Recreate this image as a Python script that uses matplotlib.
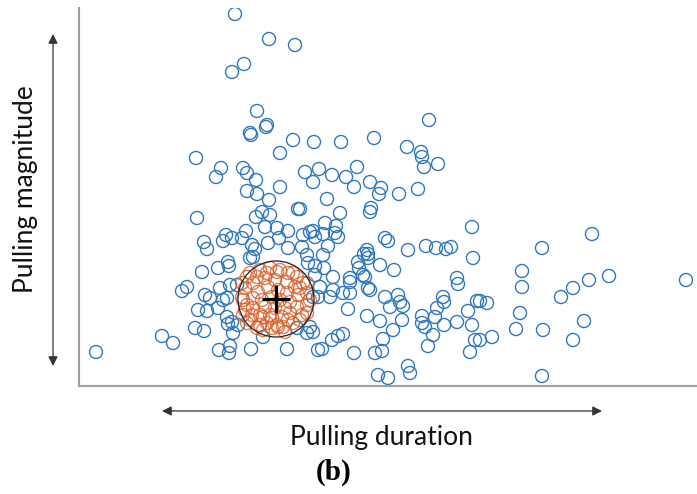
import matplotlib
matplotlib.use("Agg")
import matplotlib.pyplot as plt
from matplotlib.patches import Circle, FancyArrowPatch

# ---- data (arbitrary units) ----
dur_other = [156, 190, 216, 165, 153, 178, 187, 188, 172, 171, 214, 235, 201, 117, 142, 137,
             164, 168, 177, 201, 226, 234, 240, 168, 178, 190, 350, 262, 295, 328, 342, 343,
             345, 359, 253, 267, 278, 275, 291, 302, 300, 320, 339, 248, 221, 261, 292, 291,
             246, 257, 234, 224, 236, 244, 256, 259, 249, 223, 393, 306, 309, 329, 347, 357,
             367, 372, 394, 288, 289, 285, 228, 244, 279, 289, 301, 315, 229, 236, 245, 280,
             284, 271, 254, 236, 378, 513, 463, 443, 443, 510, 530, 607, 494, 482, 408, 401,
             441, 505, 437, 464, 413, 401, 494, 463, 219, 183, 191, 177, 118, 186, 198, 209,
             200, 189, 167, 147, 153, 144, 125, 128, 163, 173, 176, 171, 174, 231, 209, 149,
             150, 139, 123, 108, 103, 126, 131, 141, 151, 158, 144, 148, 119, 128, 139, 148,
             153, 149, 159, 116, 125, 154, 83, 94, 17, 140, 151, 150, 172, 208, 184, 218,
             231, 228, 234, 239, 286, 289, 291, 379, 241, 254, 264, 271, 251, 239, 306, 319,
             311, 321, 324, 269, 364, 365, 358, 398, 389, 288, 301, 323, 343, 356, 343, 346,
             378, 365, 393, 314, 354, 396, 264, 259, 253, 234, 304, 349, 391, 243, 275, 296,
             303, 329, 331, 299, 309, 271]
mag_other = [372, 347, 341, 322, 314, 275, 259, 261, 251, 253, 246, 244, 233, 228, 218, 209,
             218, 213, 206, 199, 214, 204, 217, 195, 192, 186, 266, 244, 248, 239, 234, 229,
             219, 222, 211, 209, 219, 199, 204, 198, 192, 192, 197, 187, 177, 173, 178, 174,
             163, 160, 155, 151, 149, 152, 153, 149, 140, 139, 159, 148, 145, 136, 140, 138,
             137, 139, 128, 136, 132, 132, 131, 131, 124, 128, 121, 116, 123, 120, 118, 118,
             111, 108, 109, 111, 108, 152, 138, 115, 99, 106, 110, 106, 98, 89, 83, 85,
             73, 65, 57, 56, 49, 46, 46, 10, 177, 174, 171, 169, 168, 159, 158, 155,
             148, 143, 155, 151, 148, 145, 144, 137, 148, 141, 137, 128, 129, 154, 138, 124,
             120, 118, 114, 99, 95, 91, 88, 98, 101, 101, 86, 88, 76, 75, 78, 69,
             64, 62, 61, 58, 55, 53, 50, 43, 34, 36, 40, 33, 37, 37, 49, 58,
             59, 53, 89, 36, 109, 98, 96, 102, 99, 96, 93, 93, 89, 89, 89, 91,
             79, 84, 80, 77, 89, 84, 78, 85, 75, 70, 65, 66, 70, 69, 63, 59,
             64, 61, 61, 56, 51, 46, 52, 50, 46, 54, 47, 40, 34, 37, 33, 33,
             35, 20, 13, 11, 8, 104]

dur_cluster = [171, 181, 191, 201, 209, 218, 224, 228, 228, 223, 214, 204, 193, 181, 171, 166,
               164, 166, 174, 186, 196, 208, 216, 219, 218, 211, 203, 191, 181, 174, 174, 179,
               189, 199, 208, 211, 206, 196, 186, 183, 193, 201, 168, 163, 163, 164, 168, 188,
               198, 209, 221, 228, 231, 228, 198, 188, 178, 184, 173, 214, 221, 168, 199, 178,
               184, 193, 206]
mag_cluster = [113, 116, 118, 116, 113, 109, 103, 93, 81, 71, 63, 59, 58, 61, 66, 76,
               86, 98, 103, 108, 106, 104, 99, 91, 79, 73, 69, 71, 71, 78, 88, 94,
               99, 96, 93, 84, 78, 78, 79, 86, 89, 86, 109, 103, 89, 71, 63, 63,
               61, 66, 66, 73, 86, 103, 114, 113, 109, 69, 71, 113, 98, 81, 59, 58,
               56, 68, 54]

center_dur, center_mag = 197, 87
cluster_radius = 38

x_label = "Pulling duration"
y_label = "Pulling magnitude"
caption = "(b)"

# ---- figure ----
W, H = 697, 494
fig = plt.figure(figsize=(W / 100, H / 100), dpi=100)
ax = fig.add_axes([79 / W, (H - 386) / H, (W - 79) / W, (386 - 8) / H])
ax.set_xlim(0, 618)
ax.set_ylim(0, 378)

blue = "#2f78bd"
orange = "#d6602a"

ax.scatter(dur_other, mag_other, s=88, facecolors="none", edgecolors=blue,
           linewidths=1.0, zorder=2)
ax.scatter(dur_cluster, mag_cluster, s=88, facecolors="none", edgecolors=orange,
           linewidths=1.0, alpha=0.8, zorder=3)
ax.add_patch(Circle((center_dur, center_mag), cluster_radius, fill=False,
                    edgecolor="#222222", linewidth=0.9, zorder=4))
ax.plot([center_dur], [center_mag], marker="+", markersize=20, mew=2.3,
        color="black", zorder=5)

ax.set_xticks([])
ax.set_yticks([])
for s in ("top", "right"):
    ax.spines[s].set_visible(False)
for s in ("left", "bottom"):
    ax.spines[s].set_color("#a0a0a0")
    ax.spines[s].set_linewidth(1.5)


def fx(px):
    return px / W


def fy(py):
    return (H - py) / H


arrow_kw = dict(transform=fig.transFigure, arrowstyle="<|-|>", mutation_scale=14,
                color="#333333", linewidth=0.9, shrinkA=0, shrinkB=0)
fig.add_artist(FancyArrowPatch((fx(53), fy(366)), (fx(53), fy(34)), **arrow_kw))
fig.add_artist(FancyArrowPatch((fx(162), fy(411)), (fx(602), fy(411)), **arrow_kw))

label_font = ["Lato", "DejaVu Sans"]
fig.text(fx(26), fy(189), y_label, rotation=90, ha="center", va="center",
         fontsize=19, family=label_font, color="#111111")
fig.text(fx(381), fy(437), x_label, ha="center", va="center",
         fontsize=19, family=label_font, color="#111111")
fig.text(fx(334), fy(472), caption, ha="center", va="center",
         fontsize=21, family=["Liberation Serif", "DejaVu Serif"],
         fontweight="bold", color="black")

fig.savefig("out.png", dpi=100)
